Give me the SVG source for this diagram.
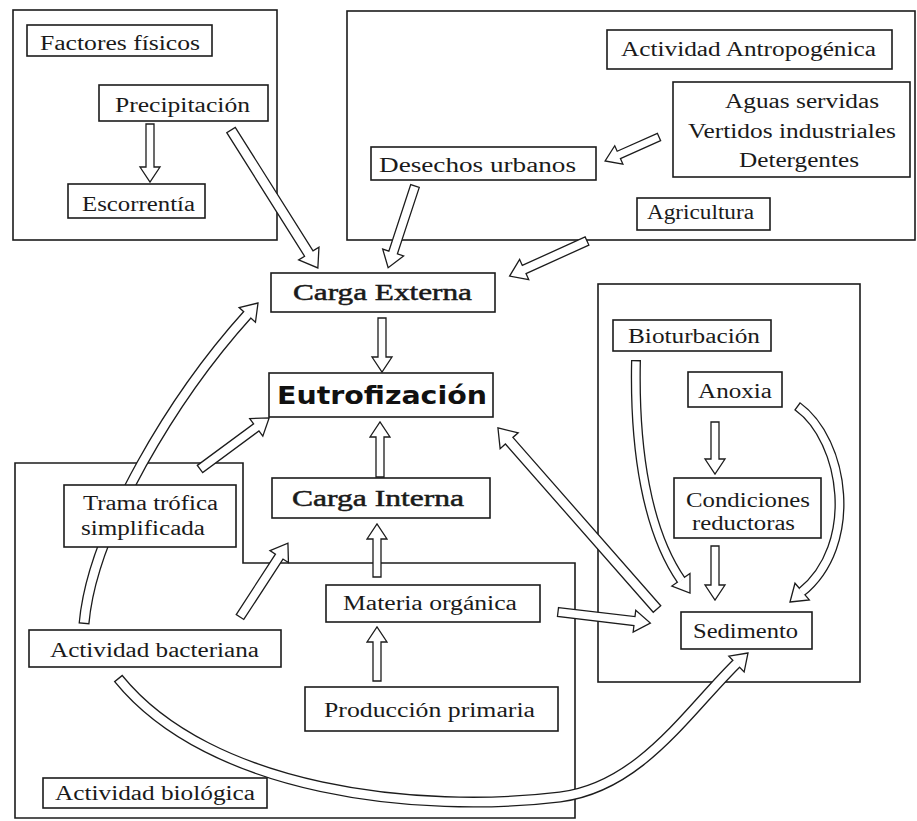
<svg xmlns="http://www.w3.org/2000/svg" width="917" height="821" viewBox="0 0 917 821">
<style>
.panel{fill:none;stroke:#1c1c1c;stroke-width:1.6}
.box{fill:#fff;stroke:#1c1c1c;stroke-width:1.6}
.t{font-family:"Liberation Serif","Times New Roman",serif;font-size:20px;fill:#1a1a1a;text-anchor:middle}
.tb{font-family:"Liberation Serif","Times New Roman",serif;font-size:23px;fill:#1a1a1a;stroke:#1a1a1a;stroke-width:0.5;text-anchor:middle}
.te{font-family:"DejaVu Sans","Liberation Sans",sans-serif;font-size:25px;font-weight:bold;fill:#111;text-anchor:middle}
.ar{fill:#fff;stroke:#1c1c1c;stroke-width:1.3;stroke-linejoin:miter}
.cb{fill:none;stroke:#1c1c1c;stroke-linecap:butt}
.cw{fill:none;stroke:#fff;stroke-linecap:butt;stroke-dasharray:0 1.4 3000}
</style>
<rect width="917" height="821" fill="#fff"/>

<g id="panels">
<rect id="panel-fisicos" class="panel" x="13" y="10" width="264" height="230"/>
<rect id="panel-antropogenica" class="panel" x="347" y="11" width="568" height="229"/>
<rect id="panel-sedimento" class="panel" x="598" y="284" width="262" height="398"/>
<polygon id="panel-biologica" class="panel" points="15,463 243,463 243,563 575,563 575,818 15,818"/>
</g>

<g id="connectors">
<polygon class="ar" points="0,-4 43,-4 43,-10 58,0 43,10 43,4 0,4" transform="translate(150,124) rotate(90)"/>
<polygon class="ar" points="0,-5 146,-5 146,-12 163,0 146,12 146,5 0,5" transform="translate(231,130) rotate(57.8)"/>
<polygon class="ar" points="0,-4 44,-4 44,-10 59,0 44,10 44,4 0,4" transform="translate(659,137) rotate(156)"/>
<polygon class="ar" points="0,-4.5 70,-4.5 70,-11 86,0 70,11 70,4.5 0,4.5" transform="translate(415,186) rotate(108.2)"/>
<polygon class="ar" points="0,-4.5 69,-4.5 69,-11 85,0 69,11 69,4.5 0,4.5" transform="translate(587,241) rotate(155.6)"/>
<polygon class="ar" points="0,-4 39,-4 39,-10 54,0 39,10 39,4 0,4" transform="translate(382,318) rotate(90)"/>
<polygon class="ar" points="0,-4 40,-4 40,-10 55,0 40,10 40,4 0,4" transform="translate(380,477) rotate(-90)"/>
<polygon class="ar" points="0,-4 38,-4 38,-10 53,0 38,10 38,4 0,4" transform="translate(377,577) rotate(-90)"/>
<polygon class="ar" points="0,-4 39,-4 39,-10 54,0 39,10 39,4 0,4" transform="translate(377,681) rotate(-90)"/>
<polygon class="ar" points="0,-4.5 72,-4.5 72,-11 88,0 72,11 72,4.5 0,4.5" transform="translate(240,617) rotate(-57)"/>
<polygon class="ar" points="0,-4.5 70,-4.5 70,-11 86,0 70,11 70,4.5 0,4.5" transform="translate(200,469) rotate(-36.5)"/>
<polygon class="ar" points="0,-5 224,-5 224,-12 241,0 224,12 224,5 0,5" transform="translate(657,609) rotate(-131.3)"/>
<polygon class="ar" points="0,-4.5 77,-4.5 77,-11 93,0 77,11 77,4.5 0,4.5" transform="translate(558,612) rotate(6.8)"/>
<polygon class="ar" points="0,-4 37,-4 37,-10 52,0 37,10 37,4 0,4" transform="translate(715,422) rotate(90)"/>
<polygon class="ar" points="0,-4 39,-4 39,-10 54,0 39,10 39,4 0,4" transform="translate(715,546) rotate(90)"/>

<path class="cb" stroke-width="11" d="M84,624 C92,530 175,395 248,314"/>
<polygon class="ar" points="0,0 -16,-11 -16,11" transform="translate(258,303) rotate(-48)"/>
<path class="cw" stroke-width="8.4" d="M84,624 C92,530 175,395 248,314"/>

<path class="cb" stroke-width="11" d="M118,678 C210,792 420,814 560,797 C640,787 687,712 737,663"/>
<polygon class="ar" points="0,0 -16,-11 -16,11" transform="translate(748,653) rotate(-44)"/>
<path class="cw" stroke-width="8.4" d="M118,678 C210,792 420,814 560,797 C640,787 687,712 737,663"/>

<path class="cb" stroke-width="10" d="M636,360 C634,450 647,531 681.5,580.6"/>
<polygon class="ar" points="0,0 -16,-11 -16,11" transform="translate(690,593) rotate(55.4)"/>
<path class="cw" stroke-width="7.4" d="M636,360 C634,450 647,531 681.5,580.6"/>

<path class="cb" stroke-width="10" d="M797,406 C845,440 860,545 801.4,592.2"/>
<polygon class="ar" points="0,0 -16,-11 -16,11" transform="translate(790,602) rotate(139.4)"/>
<path class="cw" stroke-width="7.4" d="M797,406 C845,440 860,545 801.4,592.2"/>
</g>

<g id="n-factores"><rect class="box" x="27" y="25" width="185" height="31"/><text class="t" x="120" y="50" textLength="160" lengthAdjust="spacingAndGlyphs">Factores físicos</text></g>
<g id="n-precipitacion"><rect class="box" x="99" y="85" width="169" height="36"/><text class="t" x="182.5" y="112" textLength="135" lengthAdjust="spacingAndGlyphs">Precipitación</text></g>
<g id="n-escorrentia"><rect class="box" x="68" y="184" width="137" height="34"/><text class="t" x="138.5" y="211" textLength="113" lengthAdjust="spacingAndGlyphs">Escorrentía</text></g>
<g id="n-antropogenica"><rect class="box" x="607" y="30" width="285" height="39"/><text class="t" x="748.5" y="56" textLength="255" lengthAdjust="spacingAndGlyphs">Actividad Antropogénica</text></g>
<g id="n-aguas"><rect class="box" x="673" y="82" width="237" height="95"/>
<text class="t" x="802" y="108" textLength="154" lengthAdjust="spacingAndGlyphs">Aguas servidas</text>
<text class="t" x="792" y="138" textLength="208" lengthAdjust="spacingAndGlyphs">Vertidos industriales</text>
<text class="t" x="799" y="167" textLength="120" lengthAdjust="spacingAndGlyphs">Detergentes</text></g>
<g id="n-desechos"><rect class="box" x="371" y="147" width="225" height="33"/><text class="t" x="477.5" y="172" textLength="197" lengthAdjust="spacingAndGlyphs">Desechos urbanos</text></g>
<g id="n-agricultura"><rect class="box" x="637" y="198" width="133" height="32"/><text class="t" x="700.5" y="219" textLength="107" lengthAdjust="spacingAndGlyphs">Agricultura</text></g>
<g id="n-carga-externa"><rect class="box" x="271" y="273" width="224" height="39"/><text class="tb" x="382.5" y="300" textLength="179" lengthAdjust="spacingAndGlyphs">Carga Externa</text></g>
<g id="n-eutrofizacion"><rect class="box" x="269" y="373" width="224" height="44"/><text class="te" x="382" y="404" textLength="210" lengthAdjust="spacingAndGlyphs">Eutrofización</text></g>
<g id="n-carga-interna"><rect class="box" x="272" y="478" width="218" height="40"/><text class="tb" x="378" y="506" textLength="172" lengthAdjust="spacingAndGlyphs">Carga Interna</text></g>
<g id="n-trama"><rect class="box" x="64" y="485" width="172" height="62"/>
<text class="t" x="150.5" y="510" textLength="135" lengthAdjust="spacingAndGlyphs">Trama trófica</text>
<text class="t" x="143" y="535" textLength="124" lengthAdjust="spacingAndGlyphs">simplificada</text></g>
<g id="n-materia"><rect class="box" x="326" y="585" width="214" height="37"/><text class="t" x="430" y="610" textLength="174" lengthAdjust="spacingAndGlyphs">Materia orgánica</text></g>
<g id="n-bacteriana"><rect class="box" x="29" y="630" width="252" height="37"/><text class="t" x="154.5" y="657" textLength="209" lengthAdjust="spacingAndGlyphs">Actividad bacteriana</text></g>
<g id="n-produccion"><rect class="box" x="305" y="687" width="253" height="44"/><text class="t" x="429.5" y="717" textLength="211" lengthAdjust="spacingAndGlyphs">Producción primaria</text></g>
<g id="n-biologica"><rect class="box" x="43" y="778" width="224" height="30"/><text class="t" x="155" y="800" textLength="200" lengthAdjust="spacingAndGlyphs">Actividad biológica</text></g>
<g id="n-bioturbacion"><rect class="box" x="613" y="320" width="158" height="31"/><text class="t" x="694" y="343" textLength="132" lengthAdjust="spacingAndGlyphs">Bioturbación</text></g>
<g id="n-anoxia"><rect class="box" x="688" y="372" width="94" height="35"/><text class="t" x="735" y="398" textLength="74" lengthAdjust="spacingAndGlyphs">Anoxia</text></g>
<g id="n-condiciones"><rect class="box" x="674" y="478" width="147" height="60"/>
<text class="t" x="748" y="507" textLength="124" lengthAdjust="spacingAndGlyphs">Condiciones</text>
<text class="t" x="743.5" y="530" textLength="103" lengthAdjust="spacingAndGlyphs">reductoras</text></g>
<g id="n-sedimento"><rect class="box" x="681" y="612" width="131" height="37"/><text class="t" x="745.5" y="638" textLength="105" lengthAdjust="spacingAndGlyphs">Sedimento</text></g>
</svg>
